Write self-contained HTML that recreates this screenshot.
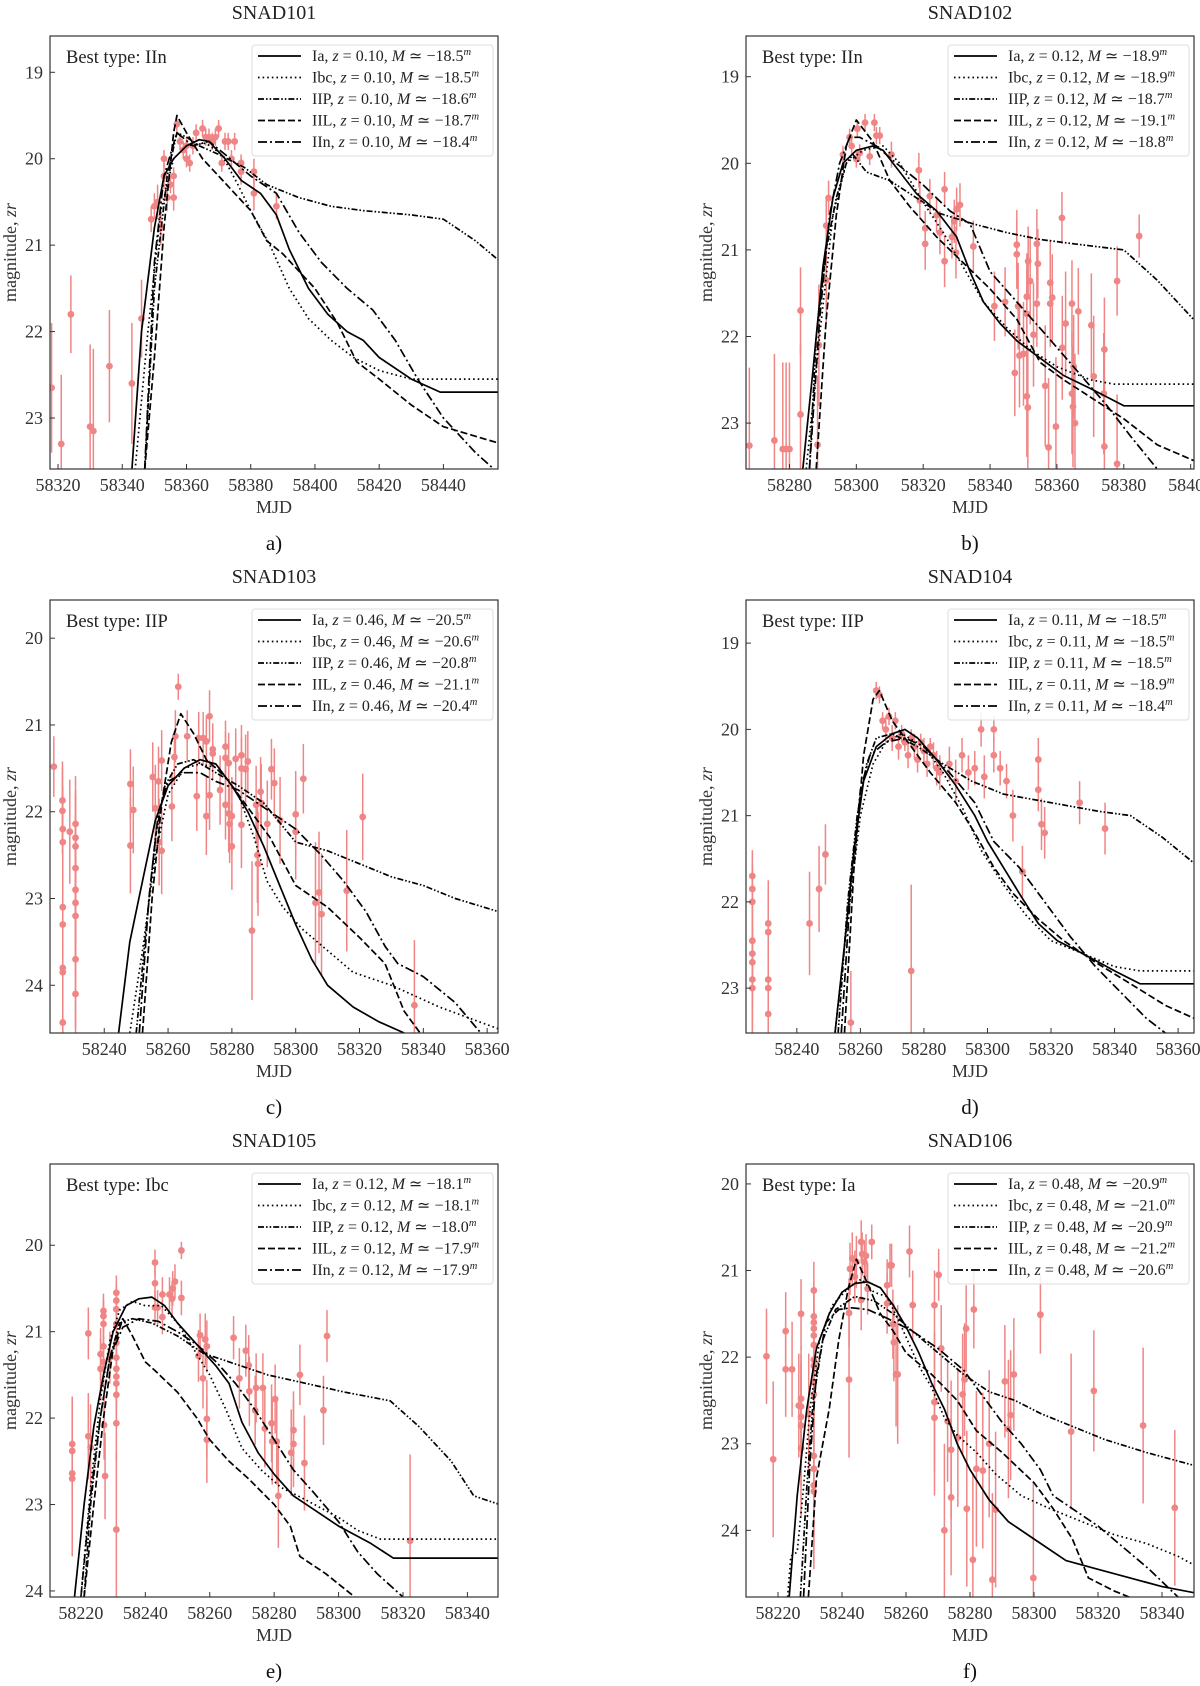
<!DOCTYPE html>
<html><head><meta charset="utf-8"><title>SNAD light curves</title>
<style>
html,body{margin:0;padding:0;background:#fff;}
svg{display:block;font-family:"Liberation Serif","DejaVu Serif",serif;}
</style></head>
<body>
<svg id="fig" width="1200" height="1686" viewBox="0 0 1200 1686" xmlns="http://www.w3.org/2000/svg"></svg>
<script>
// ---------- DATA ----------
const typeNames = ["Ia","Ibc","IIP","IIL","IIn"];
const titles = ["SNAD101","SNAD102","SNAD103","SNAD104","SNAD105","SNAD106"];
const panelLetters = ["a)","b)","c)","d)","e)","f)"];
const bestTypes = ["IIn","IIn","IIP","IIP","Ibc","Ia"];
const redshifts = ["0.10","0.12","0.46","0.11","0.12","0.48"];
const absMags101 = ["18.5","18.5","18.6","18.7","18.4"];
const absMags102 = ["18.9","18.9","18.7","19.1","18.8"];
const absMags103 = ["20.5","20.6","20.8","21.1","20.4"];
const absMags104 = ["18.5","18.5","18.5","18.9","18.4"];
const absMags105 = ["18.1","18.1","18.0","17.9","17.9"];
const absMags106 = ["20.9","21.0","20.9","21.2","20.6"];
const xDomains = [[58317.5,58457],[58267,58401],[58223,58363.4],[58224,58365],[58210.4,58349.5],[58210,58350]];
const yDomains = [[18.58,23.59],[18.53,23.53],[19.56,24.55],[18.5,23.52],[19.06,24.07],[19.77,24.77]];
const xTicks101 = [58320,58340,58360,58380,58400,58420,58440];
const xTicks102 = [58280,58300,58320,58340,58360,58380,58400];
const xTicks103 = [58240,58260,58280,58300,58320,58340,58360];
const xTicks104 = [58240,58260,58280,58300,58320,58340,58360];
const xTicks105 = [58220,58240,58260,58280,58300,58320,58340];
const xTicks106 = [58220,58240,58260,58280,58300,58320,58340];
const yTicks101 = [19,20,21,22,23];
const yTicks102 = [19,20,21,22,23];
const yTicks103 = [20,21,22,23,24];
const yTicks104 = [19,20,21,22,23];
const yTicks105 = [20,21,22,23,24];
const yTicks106 = [20,21,22,23,24];

// observations [mjd, mag, err]
const obs101 = [[58318,22.65,0.75],[58321,23.3,0.8],[58324,21.8,0.45],[58330,23.1,0.95],[58331,23.15,0.95],[58336,22.4,0.65],[58343,22.6,0.7],[58346,21.85,0.45],
[58349,20.7,0.15],[58350,20.55,0.15],[58351,20.5,0.2],[58352,20.8,0.2],[58353,20.0,0.1],[58353,20.2,0.15],[58354,20.45,0.15],[58355,20.3,0.1],[58356,20.2,0.1],[58356,20.45,0.15],[58357,19.6,0.1],[58358,19.8,0.1],[58359,19.9,0.1],[58360,20.0,0.1],[58360,19.85,0.1],[58361,20.05,0.1],[58362,19.85,0.1],[58363,19.7,0.1],[58365,19.65,0.1],[58366,19.75,0.1],[58367,19.75,0.1],[58368,19.8,0.1],[58369,19.75,0.1],[58370,19.65,0.1],[58371,20.05,0.1],[58372,19.8,0.1],[58373,19.8,0.1],[58374,20.0,0.1],[58375,19.8,0.1],[58377,20.05,0.1],[58377,20.15,0.15],[58381,20.15,0.15],[58381,20.4,0.2],[58388,20.55,0.15]];
const obs102 = [[58268,23.26,0.9],[58275.5,23.2,1.0],[58278,23.3,1.0],[58279,23.3,1.0],[58280,23.3,1.0],[58283.3,21.7,0.5],[58283.3,22.9,0.8],[58288.4,23.25,0.8],[58288.8,22.1,0.7],[58291,21.35,0.5],[58291,20.72,0.3],[58291.7,20.4,0.2],[58296,19.9,0.1],[58298,19.7,0.1],[58298.6,19.8,0.1],[58300,19.95,0.1],[58300.3,19.6,0.1],[58301,19.88,0.1],[58302.6,19.53,0.1],[58304,19.92,0.1],[58305.4,19.53,0.1],[58306,19.68,0.1],[58307,19.68,0.1],[58310.5,19.9,0.15],[58318.7,20.08,0.2],[58319,20.43,0.2],[58320.6,20.75,0.2],[58320.6,20.93,0.3],[58322,20.38,0.2],[58324,20.6,0.2],[58325,20.8,0.25],[58326.4,20.3,0.2],[58326.4,21.13,0.3],[58328.6,20.85,0.25],[58329.3,20.67,0.25],[58329.8,21.03,0.3],[58330,20.53,0.25],[58331,20.48,0.25],[58335,20.96,0.3],[58341.3,21.65,0.4],[58344.5,21.6,0.4],[58347.4,22.42,0.5],[58348,20.94,0.4],[58348,21.05,0.4],[58348.4,21.65,0.5],[58348.8,22.22,0.6],[58350,22.2,0.6],[58351,21.54,0.5],[58351,21.74,0.5],[58351,22.69,0.7],[58351.3,22.82,0.7],[58351.4,21.13,0.4],[58352,21.36,0.5],[58353,21.98,0.6],[58354,20.93,0.4],[58354.3,21.16,0.4],[58354,21.62,0.5],[58356.5,22.57,0.7],[58357.5,23.28,0.8],[58358,21.62,0.5],[58358,21.38,0.5],[58358.6,21.55,0.5],[58359.7,23.04,0.8],[58361.5,20.63,0.3],[58361.6,22.13,0.6],[58362.6,21.85,0.6],[58364.5,21.62,0.5],[58364.5,22.66,0.7],[58364.8,22.81,0.7],[58365,22.35,0.6],[58365.4,23.0,0.8],[58366.4,21.71,0.5],[58370.3,21.87,0.6],[58371,22.46,0.7],[58374.2,22.15,0.6],[58374.2,23.27,0.8],[58374,22.66,0.7],[58378,21.36,0.4],[58378,23.47,0.8],[58384.6,20.84,0.25]];
const obs103 = [[58224.2,21.48,0.35],[58226.9,21.87,0.45],[58226.9,21.99,0.5],[58227,22.2,0.5],[58227,22.35,0.55],[58227,23.1,0.7],[58227,23.3,0.7],[58227,23.8,0.8],[58227,23.85,0.8],[58227,24.43,0.9],[58229.2,22.23,0.6],[58231,22.14,0.55],[58231,22.3,0.55],[58231,22.4,0.6],[58231,22.65,0.6],[58231,22.9,0.65],[58231,23.05,0.7],[58231,23.2,0.7],[58231,23.7,0.8],[58231,24.1,0.9],[58248.2,21.68,0.4],[58248.2,22.39,0.55],[58249.1,21.98,0.5],[58255.2,21.6,0.4],[58256,21.96,0.5],[58257,21.65,0.4],[58257.2,22.35,0.5],[58258,21.41,0.35],[58258,22.45,0.5],[58261.2,21.94,0.4],[58262,21.37,0.3],[58262.3,21.13,0.3],[58263.2,20.56,0.15],[58266,21.13,0.3],[58269,21.82,0.4],[58269.6,21.15,0.3],[58271,21.15,0.3],[58272,22.05,0.45],[58272,21.19,0.3],[58273,20.9,0.3],[58273,21.81,0.4],[58274,21.28,0.3],[58274,21.33,0.3],[58276.3,21.75,0.4],[58278,21.25,0.3],[58278,21.38,0.3],[58278,21.92,0.4],[58279,21.44,0.35],[58279,22.02,0.45],[58279.3,22.14,0.45],[58280,22.4,0.5],[58280,22.05,0.45],[58281.2,21.39,0.35],[58283,21.35,0.35],[58283,21.5,0.35],[58283,22.15,0.5],[58284.3,21.51,0.4],[58285,21.42,0.35],[58286.3,23.37,0.8],[58287.6,21.92,0.45],[58288,22.5,0.55],[58288.2,22.6,0.6],[58289,21.77,0.4],[58289.2,21.9,0.45],[58291.1,22.14,0.5],[58292.4,21.51,0.35],[58293.3,21.67,0.4],[58295.1,22.1,0.5],[58300,22.03,0.5],[58300,22.23,0.55],[58302.4,21.62,0.4],[58306.2,23.05,0.7],[58307.3,22.93,0.7],[58308.1,23.18,0.7],[58316,22.91,0.7],[58321,22.06,0.5],[58337.2,24.23,0.75]];
const obs104 = [[58226,21.7,0.3],[58226,21.85,0.3],[58226,22.0,0.4],[58226,22.45,0.5],[58226,22.6,0.5],[58226,22.7,0.5],[58226,22.9,0.6],[58226,23.0,0.6],[58231,22.25,0.5],[58231,22.35,0.5],[58231,22.9,0.6],[58231,23.0,0.6],[58231,23.3,0.8],[58244,22.25,0.6],[58247,21.85,0.5],[58249,21.45,0.35],[58257,23.4,0.6],[58265,19.55,0.1],[58266,19.6,0.1],[58267,19.9,0.1],[58268,20.0,0.15],[58269,19.85,0.1],[58270,20.1,0.15],[58271,19.9,0.1],[58272,20.2,0.15],[58273,20.05,0.1],[58274,20.15,0.1],[58275,20.3,0.15],[58276,20.1,0.1],[58277,20.2,0.15],[58278,20.35,0.15],[58279,20.15,0.1],[58280,20.25,0.15],[58281,20.4,0.15],[58282,20.2,0.1],[58283,20.3,0.15],[58284,20.45,0.2],[58285,20.5,0.2],[58276,22.8,1.0],[58288,20.4,0.2],[58290,20.6,0.25],[58292,20.3,0.2],[58294,20.5,0.2],[58296,20.45,0.2],[58298,20.0,0.2],[58299,20.55,0.25],[58302,20.0,0.15],[58302,20.3,0.2],[58304,20.45,0.2],[58306,20.6,0.2],[58308,21.0,0.3],[58311,21.65,0.3],[58316,20.35,0.25],[58316,20.7,0.25],[58317,21.1,0.3],[58318,21.2,0.3],[58329,20.85,0.25],[58337,21.15,0.3]];
const obs105 = [[58217.3,22.3,0.55],[58217.3,22.38,0.6],[58217.3,22.64,0.8],[58217.3,22.7,0.9],[58222.3,21.02,0.3],[58222.3,22.21,0.5],[58223,22.34,0.5],[58226.1,21.26,0.3],[58226.1,21.43,0.35],[58227,20.76,0.2],[58227,20.82,0.2],[58227,20.91,0.25],[58227,21.17,0.3],[58227,21.35,0.3],[58227.2,22.08,0.4],[58227.5,22.67,0.5],[58229,21.3,0.3],[58231,20.55,0.2],[58231,20.64,0.2],[58231,20.74,0.2],[58231,20.91,0.25],[58231,21.13,0.25],[58231,21.3,0.3],[58231,21.43,0.3],[58231,21.52,0.3],[58231,21.6,0.3],[58231,21.73,0.35],[58231,22.06,0.45],[58231,23.29,0.9],[58243,20.2,0.15],[58243,20.44,0.2],[58243,20.72,0.2],[58243.8,20.72,0.2],[58245.3,20.57,0.2],[58245.3,20.83,0.2],[58247.5,20.57,0.2],[58248.3,20.62,0.2],[58248.5,20.5,0.2],[58249.2,20.42,0.2],[58251.2,20.06,0.1],[58251.2,20.61,0.2],[58256.5,21.28,0.3],[58257,21.04,0.25],[58257.9,21.54,0.35],[58258.6,21.09,0.3],[58259.1,21.17,0.3],[58259.1,22.01,0.45],[58259.1,22.25,0.5],[58267.4,21.07,0.25],[58269.2,21.54,0.35],[58271.2,21.22,0.3],[58272.1,21.39,0.35],[58272.3,21.69,0.4],[58274.1,21.91,0.4],[58274.4,21.65,0.4],[58276.5,21.65,0.4],[58277.1,22.12,0.45],[58279.2,22.06,0.45],[58279.4,22.27,0.5],[58280.3,21.78,0.4],[58280.8,22.27,0.5],[58281.3,22.9,0.6],[58285.3,22.4,0.5],[58286,22.14,0.45],[58286,22.3,0.5],[58288,21.5,0.35],[58289.4,22.52,0.55],[58295.3,21.91,0.4],[58296.4,21.05,0.3],[58322.2,23.42,1.0]];
const obs106 = [[58216.4,21.99,0.55],[58218.5,23.18,0.9],[58222.4,21.7,0.45],[58222.4,22.14,0.55],[58224.4,22.14,0.55],[58226.5,22.56,0.6],[58227.2,21.5,0.4],[58227.2,22.48,0.6],[58227.2,22.57,0.6],[58227.2,22.69,0.65],[58227.2,22.79,0.7],[58227.2,23.05,0.8],[58229.6,22.66,0.7],[58231.2,21.23,0.33],[58231.2,21.53,0.4],[58231.2,21.6,0.4],[58231.2,21.67,0.45],[58231.2,21.75,0.45],[58231.2,21.86,0.5],[58231.2,22.03,0.5],[58231.2,22.1,0.55],[58231.2,22.29,0.6],[58231.2,22.43,0.6],[58231.2,23.14,0.8],[58231.2,23.29,0.85],[58231.2,23.48,0.9],[58231.2,23.55,0.9],[58242.2,22.26,0.9],[58242.2,21.49,0.4],[58242.5,20.98,0.3],[58243.2,20.86,0.3],[58244,21.07,0.3],[58244.5,20.9,0.3],[58246,20.67,0.25],[58246,21.34,0.35],[58246.3,20.81,0.25],[58247,20.9,0.25],[58247.5,20.83,0.25],[58248,21.21,0.3],[58249.3,20.67,0.2],[58254.1,21.17,0.3],[58254.1,21.38,0.35],[58255,20.94,0.25],[58255.5,20.94,0.25],[58255.9,21.62,0.4],[58256.2,21.83,0.45],[58256.9,22.2,0.6],[58257.4,22.2,0.8],[58261.1,20.78,0.3],[58262.1,21.4,0.4],[58268.9,21.4,0.4],[58268.9,22.52,0.8],[58268.9,22.7,0.9],[58270.2,21.05,0.3],[58271,21.9,0.5],[58272,24.0,1.0],[58273,22.74,0.7],[58274.1,23.62,0.9],[58274.1,23.07,0.8],[58276.2,22.93,0.8],[58277.7,22.43,0.7],[58278.3,22.26,0.65],[58278.8,21.67,0.5],[58279,23.75,0.9],[58280.9,24.34,1.0],[58281.2,21.45,0.45],[58282,23.29,0.9],[58284,23.31,0.9],[58286,23.0,0.85],[58287,24.57,1.0],[58288,23.76,0.9],[58290.9,22.28,0.65],[58292,22.83,0.8],[58292.7,22.67,0.75],[58293.7,22.2,0.65],[58299.8,24.55,1.1],[58302,21.51,0.45],[58311.6,22.86,0.9],[58318.7,22.39,0.7],[58334.1,22.79,0.9],[58344,23.74,0.9]];

// model curves [mjd, mag]
const ia101 = [[58343,23.6],[58346,22.0],[58350,20.8],[58353,20.2],[58356,20.0],[58360,19.85],[58364,19.78],[58367,19.8],[58372,20.0],[58377,20.25],[58383,20.4],[58388,20.65],[58392,21.05],[58398,21.5],[58404,21.8],[58410,22.0],[58415,22.1],[58420,22.3],[58430,22.55],[58439,22.7],[58458,22.7]];
const ibc101 = [[58344,23.6],[58348,22.0],[58352,20.6],[58356,20.0],[58360,19.85],[58366,19.82],[58371,19.95],[58376,20.3],[58380,20.6],[58386,21.0],[58392,21.5],[58398,21.85],[58405,22.1],[58412,22.3],[58420,22.45],[58430,22.55],[58458,22.55]];
const iip101 = [[58347,23.6],[58350,21.5],[58354,20.2],[58357,19.7],[58360,19.75],[58364,19.85],[58370,19.95],[58378,20.1],[58385,20.3],[58395,20.45],[58405,20.55],[58415,20.6],[58430,20.65],[58440,20.7],[58450,20.95],[58458,21.2]];
const iil101 = [[58347,23.6],[58350,22.3],[58353,20.8],[58356,19.7],[58357,19.5],[58360,19.7],[58365,20.0],[58370,20.2],[58380,20.6],[58385,20.95],[58390,21.1],[58400,21.5],[58407,21.9],[58413,22.35],[58420,22.55],[58430,22.85],[58440,23.1],[58458,23.3]];
const iin101 = [[58347,23.6],[58350,21.2],[58353,20.2],[58357,19.7],[58362,19.85],[58367,19.8],[58372,19.95],[58380,20.2],[58388,20.4],[58395,20.85],[58402,21.2],[58410,21.5],[58418,21.75],[58425,22.1],[58432,22.55],[58440,23.0],[58450,23.4],[58456,23.6]];
const ia102 = [[58284,23.53],[58287,22.4],[58290,21.2],[58293,20.4],[58296,20.0],[58300,19.85],[58305,19.8],[58308,19.85],[58312,20.05],[58318,20.35],[58324,20.55],[58330,20.85],[58334,21.25],[58338,21.6],[58343,21.85],[58348,22.05],[58355,22.25],[58362,22.45],[58370,22.6],[58380,22.8],[58402,22.8]];
const ibc102 = [[58285,23.53],[58289,22.0],[58293,20.6],[58297,20.0],[58302,19.85],[58308,19.8],[58313,20.0],[58320,20.45],[58326,20.8],[58332,21.2],[58338,21.6],[58345,21.9],[58352,22.15],[58360,22.35],[58370,22.5],[58377,22.55],[58402,22.55]];
const iip102 = [[58286,23.53],[58288,22.0],[58291,21.0],[58294,20.4],[58297,20.0],[58299,19.9],[58303,20.1],[58310,20.2],[58318,20.4],[58325,20.58],[58335,20.7],[58345,20.8],[58355,20.88],[58365,20.93],[58380,21.0],[58390,21.35],[58402,21.85]];
const iil102 = [[58288,23.53],[58291,21.8],[58294,20.6],[58297,19.8],[58300,19.5],[58305,19.75],[58310,20.2],[58316,20.5],[58324,20.85],[58332,21.15],[58340,21.45],[58348,21.8],[58355,22.3],[58362,22.5],[58370,22.7],[58380,22.95],[58390,23.25],[58402,23.45]];
const iin102 = [[58286,23.53],[58289,21.8],[58292,20.6],[58295,20.0],[58298,19.7],[58301,19.7],[58306,19.8],[58312,20.0],[58320,20.25],[58328,20.55],[58334,20.7],[58340,21.25],[58348,21.6],[58356,21.95],[58365,22.35],[58375,22.8],[58382,23.15],[58390,23.53]];
const ia103 = [[58244.5,24.55],[58248,23.5],[58252,22.8],[58256,22.1],[58260,21.7],[58265,21.5],[58270,21.4],[58275,21.45],[58280,21.7],[58285,22.0],[58290,22.4],[58295,22.85],[58300,23.3],[58305,23.7],[58310,24.0],[58318,24.25],[58326,24.42],[58334,24.55]];
const ibc103 = [[58248,24.55],[58252,23.6],[58256,22.5],[58260,21.8],[58265,21.5],[58270,21.45],[58276,21.5],[58282,21.8],[58287,22.3],[58291,22.8],[58296,23.1],[58302,23.35],[58310,23.6],[58318,23.85],[58330,24.0],[58345,24.25],[58363.4,24.5]];
const iip103 = [[58250,24.55],[58253,23.4],[58256,22.3],[58259,21.7],[58263,21.45],[58268,21.4],[58275,21.55],[58282,21.7],[58290,21.9],[58300,22.35],[58310,22.45],[58320,22.6],[58330,22.75],[58340,22.85],[58350,23.0],[58363.4,23.15]];
const iil103 = [[58252,24.55],[58255,23.0],[58258,21.9],[58261,21.2],[58264,20.87],[58268,21.1],[58272,21.4],[58278,21.6],[58285,21.95],[58292,22.3],[58300,22.85],[58310,23.1],[58320,23.45],[58328,23.75],[58334,24.3],[58339,24.55]];
const iin103 = [[58251,24.55],[58254,23.0],[58257,22.0],[58260,21.65],[58265,21.55],[58270,21.55],[58275,21.65],[58282,21.75],[58290,21.95],[58300,22.2],[58308,22.5],[58315,22.8],[58322,23.15],[58328,23.55],[58332,23.75],[58340,23.9],[58350,24.2],[58358,24.55]];
const ia104 = [[58252,23.52],[58255,22.5],[58258,21.4],[58261,20.6],[58265,20.2],[58270,20.05],[58274,20.0],[58278,20.1],[58284,20.35],[58290,20.65],[58296,21.0],[58300,21.3],[58305,21.6],[58310,21.9],[58316,22.25],[58322,22.45],[58330,22.6],[58340,22.8],[58348,22.95],[58365,22.95]];
const ibc104 = [[58252,23.52],[58256,22.2],[58260,21.0],[58264,20.4],[58268,20.15],[58273,20.05],[58280,20.2],[58286,20.5],[58292,20.9],[58298,21.4],[58305,21.8],[58312,22.15],[58320,22.45],[58330,22.6],[58340,22.75],[58348,22.8],[58365,22.8]];
const iip104 = [[58253,23.52],[58256,22.0],[58259,21.0],[58262,20.4],[58265,20.1],[58270,20.05],[58278,20.2],[58286,20.4],[58295,20.6],[58305,20.75],[58320,20.85],[58335,20.95],[58345,21.0],[58355,21.25],[58365,21.55]];
const iil104 = [[58255,23.52],[58258,21.6],[58261,20.3],[58264,19.65],[58266,19.55],[58270,19.9],[58276,20.2],[58282,20.5],[58290,20.85],[58296,21.2],[58302,21.6],[58308,21.9],[58316,22.2],[58324,22.45],[58334,22.7],[58345,22.95],[58356,23.2],[58365,23.35]];
const iin104 = [[58254,23.52],[58257,21.8],[58260,20.7],[58263,20.3],[58268,20.15],[58274,20.1],[58280,20.2],[58288,20.5],[58296,20.85],[58302,21.3],[58310,21.6],[58318,22.0],[58326,22.4],[58334,22.75],[58342,23.05],[58350,23.35],[58356,23.52]];
const ia105 = [[58218,24.07],[58221,23.0],[58224,22.1],[58227,21.5],[58230,21.0],[58234,20.7],[58238,20.62],[58242,20.6],[58246,20.7],[58250,20.9],[58256,21.15],[58262,21.4],[58266,21.6],[58270,22.05],[58275,22.4],[58280,22.65],[58286,22.9],[58292,23.05],[58300,23.25],[58310,23.45],[58317,23.62],[58350,23.62]];
const ibc105 = [[58220,24.07],[58223,22.8],[58226,21.8],[58229,21.1],[58232,20.75],[58236,20.65],[58240,20.7],[58245,20.7],[58250,20.9],[58255,21.2],[58260,21.5],[58265,21.9],[58270,22.35],[58276,22.6],[58282,22.8],[58290,22.95],[58300,23.15],[58306,23.3],[58313,23.4],[58350,23.4]];
const iip105 = [[58221,24.07],[58223,23.0],[58226,22.0],[58229,21.3],[58232,20.9],[58236,20.85],[58242,20.9],[58250,21.05],[58258,21.25],[58266,21.35],[58278,21.5],[58290,21.6],[58302,21.7],[58316,21.8],[58325,22.1],[58335,22.5],[58342,22.9],[58350,23.0]];
const iil105 = [[58221,24.07],[58224,23.0],[58227,22.0],[58230,21.2],[58233,20.85],[58236,21.05],[58240,21.35],[58243,21.45],[58250,21.7],[58256,22.0],[58260,22.25],[58266,22.5],[58272,22.7],[58280,23.0],[58285,23.25],[58288,23.6],[58296,23.8],[58305,24.07]];
const iin105 = [[58220,24.07],[58223,22.9],[58226,22.0],[58229,21.3],[58233,20.95],[58238,20.85],[58244,20.88],[58250,21.0],[58256,21.15],[58262,21.35],[58268,21.6],[58274,21.9],[58280,22.25],[58286,22.6],[58292,22.85],[58300,23.2],[58306,23.55],[58312,23.8],[58320,24.07]];
const ia106 = [[58223.5,24.77],[58226,23.6],[58229,22.6],[58232,21.9],[58236,21.5],[58240,21.25],[58244,21.15],[58248,21.13],[58252,21.2],[58256,21.4],[58260,21.65],[58264,21.95],[58268,22.3],[58272,22.6],[58276,23.0],[58280,23.3],[58286,23.65],[58292,23.9],[58300,24.1],[58310,24.35],[58320,24.45],[58330,24.55],[58340,24.65],[58350,24.72]];
const ibc106 = [[58223,24.77],[58224,24.3],[58226,24.25],[58228,23.5],[58230,22.6],[58233,21.8],[58237,21.4],[58242,21.2],[58246,21.1],[58250,21.25],[58254,21.3],[58258,21.6],[58264,22.1],[58268,22.35],[58272,22.7],[58276,22.9],[58282,23.1],[58288,23.35],[58296,23.6],[58305,23.75],[58315,23.9],[58325,24.05],[58335,24.15],[58345,24.3],[58350,24.4]];
const iip106 = [[58227,24.77],[58229,23.5],[58231,22.5],[58234,21.8],[58238,21.45],[58244,21.3],[58250,21.35],[58256,21.5],[58262,21.7],[58270,21.95],[58278,22.2],[58286,22.4],[58294,22.5],[58302,22.65],[58312,22.8],[58322,22.95],[58335,23.1],[58350,23.25]];
const iil106 = [[58229.5,24.77],[58232,23.4],[58236,22.6],[58239,21.8],[58242,21.2],[58244.5,20.87],[58248,21.15],[58252,21.5],[58256,21.7],[58260,21.95],[58268,22.2],[58276,22.5],[58282,22.85],[58290,23.1],[58300,23.45],[58306,23.75],[58312,24.1],[58317,24.55],[58325,24.7],[58335,24.85]];
const iin106 = [[58228,24.77],[58230,23.2],[58232,22.2],[58235,21.6],[58239,21.45],[58243,21.43],[58248,21.45],[58254,21.55],[58262,21.7],[58270,21.9],[58278,22.15],[58284,22.45],[58290,22.75],[58296,23.0],[58302,23.3],[58306,23.6],[58312,23.75],[58320,23.95],[58328,24.2],[58336,24.45],[58345,24.77]];

// ---------- LAYOUT / STYLE ----------
const NS = "http://www.w3.org/2000/svg";
const svg = document.getElementById("fig");
const PW = 448, PH = 433;
const origins = [[50,36],[746,36],[50,600],[746,600],[50,1164],[746,1164]];
const dashes = ["", "1.6,3", "6,2,1.6,2,1.6,2", "7,3", "9,3,2,3"];
const obsColor = "#f08585";
const allObs = [obs101,obs102,obs103,obs104,obs105,obs106];
const allXT = [xTicks101,xTicks102,xTicks103,xTicks104,xTicks105,xTicks106];
const allYT = [yTicks101,yTicks102,yTicks103,yTicks104,yTicks105,yTicks106];
const allM = [absMags101,absMags102,absMags103,absMags104,absMags105,absMags106];
const allCurves = [[ia101,ibc101,iip101,iil101,iin101],[ia102,ibc102,iip102,iil102,iin102],[ia103,ibc103,iip103,iil103,iin103],[ia104,ibc104,iip104,iil104,iin104],[ia105,ibc105,iip105,iil105,iin105],[ia106,ibc106,iip106,iil106,iin106]];

function mk(tag, attrs, parent){
  const e = document.createElementNS(NS, tag);
  for (const k in attrs) e.setAttribute(k, attrs[k]);
  (parent||svg).appendChild(e);
  return e;
}

const defs = mk("defs", {});

for (let p = 0; p < 6; p++) {
  const [L, T] = origins[p];
  const xd = xDomains[p], yd = yDomains[p];
  const sx = v => L + (v - xd[0]) / (xd[1] - xd[0]) * PW;
  const sy = v => T + (v - yd[0]) / (yd[1] - yd[0]) * PH;

  const g = mk("g", {});
  
  

  const cp = mk("clipPath", {id: "clip" + p}, defs);
  mk("rect", {x: L, y: T, width: PW, height: PH}, cp);

  const title = mk("text", {x: L + PW/2, y: T - 17, "text-anchor": "middle", "font-size": 20, fill: "#222"}, g);
  title.textContent = titles[p];
  
  

  const og = mk("g", {"clip-path": "url(#clip" + p + ")"}, g);
  
  
  for (const [m, mag, err] of allObs[p]) {
    const bar = mk("line", {x1: sx(m), x2: sx(m), y1: sy(mag - err), y2: sy(mag + err), stroke: obsColor, "stroke-width": 1.5}, og);
    
    
    const dot = mk("circle", {cx: sx(m), cy: sy(mag), r: 3.4, fill: obsColor}, og);
    
    
  }

  const cg = mk("g", {"clip-path": "url(#clip" + p + ")"}, g);
  
  
  allCurves[p].forEach((c, i) => {
    const d = c.map((pt, j) => (j ? "L" : "M") + sx(pt[0]).toFixed(1) + "," + sy(pt[1]).toFixed(1)).join("");
    const path = mk("path", {d: d, fill: "none", stroke: "#000", "stroke-width": 1.7, "stroke-dasharray": dashes[i] || "none", "stroke-linejoin": "round"}, cg);
    
    
  });

  const frame = mk("rect", {x: L, y: T, width: PW, height: PH, fill: "none", stroke: "#333", "stroke-width": 1.2}, g);
  
  

  for (const t of allXT[p]) {
    const x = sx(t);
    if (x < L - 1 || x > L + PW + 1) continue;
    mk("line", {x1: x, x2: x, y1: T + PH, y2: T + PH - 5, stroke: "#333", "stroke-width": 1}, g);
    const lab = mk("text", {x: x, y: T + PH + 22, "text-anchor": "middle", "font-size": 18, fill: "#333"}, g);
    lab.textContent = t;
    
    
  }
  for (const t of allYT[p]) {
    const y = sy(t);
    mk("line", {x1: L, x2: L + 5, y1: y, y2: y, stroke: "#333", "stroke-width": 1}, g);
    const lab = mk("text", {x: L - 7, y: y + 6, "text-anchor": "end", "font-size": 18, fill: "#333"}, g);
    lab.textContent = t;
    
    
  }

  const xl = mk("text", {x: L + PW/2, y: T + PH + 44, "text-anchor": "middle", "font-size": 18, fill: "#333"}, g);
  xl.textContent = "MJD";
  
  

  const yl = mk("text", {x: 0, y: 0, "text-anchor": "middle", "font-size": 18, fill: "#333", transform: "translate(" + (L - 34) + "," + (T + PH/2) + ") rotate(-90)"}, g);
  yl.innerHTML = 'magnitude, <tspan font-style="italic">zr</tspan>';
  
  

  const pl = mk("text", {x: L + PW/2, y: T + PH + 81, "text-anchor": "middle", "font-size": 21, fill: "#111"}, g);
  pl.textContent = panelLetters[p];
  
  

  const bt = mk("text", {x: L + 16, y: T + 27, "font-size": 18.5, fill: "#222"}, g);
  bt.textContent = "Best type:  " + bestTypes[p];
  
  

  const lg = mk("g", {}, g);
  
  
  const LX = L + PW - 246, LY = T + 9;
  mk("rect", {x: LX, y: LY, width: 241, height: 111, rx: 3, fill: "#fff", "fill-opacity": 0.85, stroke: "#ddd", "stroke-width": 1}, lg);
  typeNames.forEach((nm, i) => {
    const yy = LY + 11 + i * 21.5;
    const ent = mk("g", {}, lg);
    
    
    mk("line", {x1: LX + 6, x2: LX + 49, y1: yy, y2: yy, stroke: "#000", "stroke-width": 1.7, "stroke-dasharray": dashes[i] || "none"}, ent);
    const tx = mk("text", {x: LX + 60, y: yy + 5, "font-size": 16, fill: "#222"}, ent);
    tx.innerHTML = nm + ', <tspan font-style="italic">z</tspan> = ' + redshifts[p] + ', <tspan font-style="italic">M</tspan> \u2243 \u2212' + allM[p][i] + '<tspan dy="-6" font-size="10.5" font-style="italic">m</tspan>';
  });
}
</script>
</body></html>
